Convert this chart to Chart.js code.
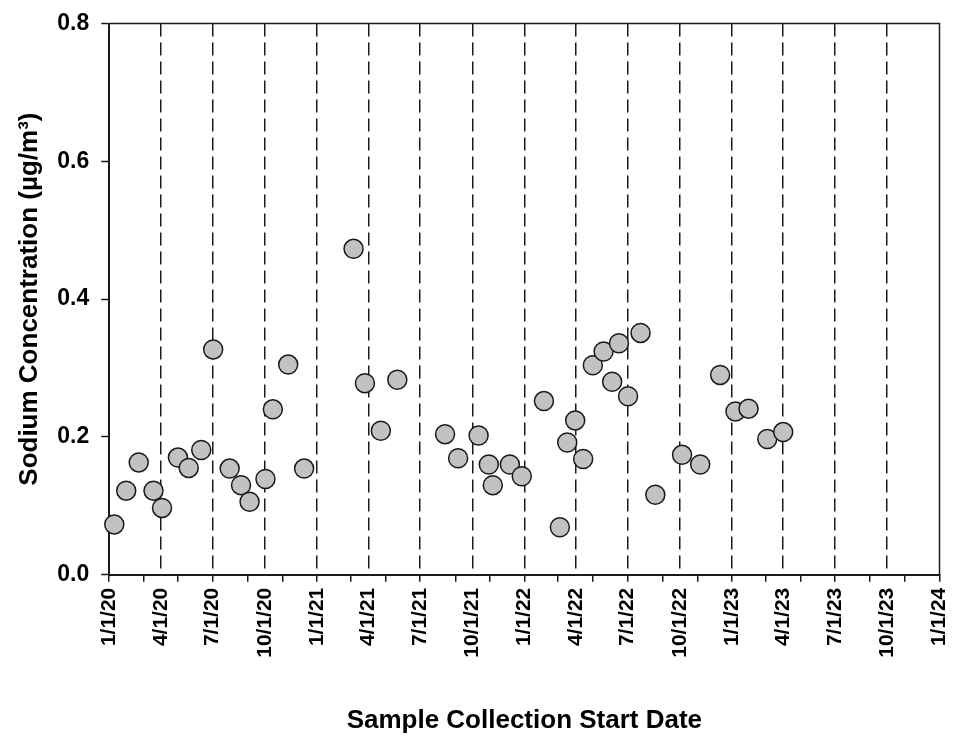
<!DOCTYPE html>
<html>
<head>
<meta charset="utf-8">
<script src="https://cdn.jsdelivr.net/npm/chart.js@4.4.0/dist/chart.umd.min.js"></script>
<style>
  html, body { margin: 0; padding: 0; background: #fff; }
  #wrap { width: 956px; height: 740px; }
</style>
</head>
<body>
<div id="wrap"><canvas id="chart"></canvas></div>
<script>
// sample collection start dates (yyyy-mm-dd) and sodium values (ug/m3)
const sampleDates = [
  '2020-01-10', '2020-01-31', '2020-02-22', '2020-03-19', '2020-04-03',
  '2020-05-01', '2020-05-20', '2020-06-11', '2020-07-02', '2020-07-31',
  '2020-08-20', '2020-09-04', '2020-10-02', '2020-10-15', '2020-11-11',
  '2020-12-09', '2021-03-06', '2021-03-26', '2021-04-23', '2021-05-22',
  '2021-08-14', '2021-09-06', '2021-10-12', '2021-10-30', '2021-11-06',
  '2021-12-06', '2021-12-27', '2022-02-04', '2022-03-04', '2022-03-17',
  '2022-03-31', '2022-04-14', '2022-05-01', '2022-05-20', '2022-06-04',
  '2022-06-16', '2022-07-02', '2022-07-24', '2022-08-19', '2022-10-05',
  '2022-11-06', '2022-12-11', '2023-01-07', '2023-01-30', '2023-03-04',
  '2023-04-01'
];
const sodium = [
  0.073, 0.122, 0.163, 0.122, 0.097,
  0.170, 0.155, 0.181, 0.327, 0.154,
  0.130, 0.106, 0.139, 0.240, 0.305,
  0.154, 0.473, 0.278, 0.209, 0.283,
  0.204, 0.169, 0.202, 0.160, 0.130,
  0.160, 0.143, 0.252, 0.069, 0.192,
  0.224, 0.168, 0.304, 0.324, 0.280,
  0.336, 0.259, 0.351, 0.116, 0.174,
  0.160, 0.290, 0.237, 0.241, 0.197,
  0.207
];

// labelled quarters (dashed lines) and the months that get a tick mark
const quarterLabels = [
  '1/1/20', '4/1/20', '7/1/20', '10/1/20',
  '1/1/21', '4/1/21', '7/1/21', '10/1/21',
  '1/1/22', '4/1/22', '7/1/22', '10/1/22',
  '1/1/23', '4/1/23', '7/1/23', '10/1/23',
  '1/1/24'
];
const tickMonths = [1, 3, 5, 7, 9, 11];
const tickYears = [2020, 2021, 2022, 2023];
const yTicks = [0, 0.2, 0.4, 0.6, 0.8];

const DAY = 86400000;
const origin = Date.UTC(2020, 0, 1);
function dayOf(y, m, d) { return Math.round((Date.UTC(y, m - 1, d) - origin) / DAY); }
function isoDay(s) { const p = s.split('-').map(Number); return dayOf(p[0], p[1], p[2]); }
function mdyDay(s) { const p = s.split('/').map(Number); return dayOf(2000 + p[2], p[0], p[1]); }

const labelByDay = {};
quarterLabels.forEach(l => { labelByDay[mdyDay(l)] = l; });
const minorSet = new Set();
tickYears.forEach(y => tickMonths.forEach(m => minorSet.add(dayOf(y, m, 1))));
minorSet.add(dayOf(2024, 1, 1));
const xMin = mdyDay(quarterLabels[0]);
const xMax = mdyDay(quarterLabels[quarterLabels.length - 1]);
const tickDays = Array.from(new Set([...Object.keys(labelByDay).map(Number), ...minorSet])).sort((a, b) => a - b);

const points = sampleDates.map((d, i) => ({ x: isoDay(d), y: sodium[i] }));

const ink = '#1a1a1a';
const none = 'rgba(0,0,0,0)';
const font = 'Liberation Sans, Arial, sans-serif';

const frame = {
  id: 'frame',
  afterDatasetsDraw(chart) {
    const { ctx, chartArea: a } = chart;
    ctx.save();
    ctx.strokeStyle = ink;
    ctx.lineWidth = 1.5;
    ctx.beginPath();
    ctx.moveTo(a.left, a.top);
    ctx.lineTo(a.right, a.top);
    ctx.lineTo(a.right, a.bottom);
    ctx.stroke();
    ctx.restore();
  }
};

new Chart(document.getElementById('chart'), {
  type: 'scatter',
  data: {
    datasets: [{
      data: points,
      backgroundColor: '#c2c2c2',
      borderColor: ink,
      borderWidth: 1.5,
      pointRadius: 9.5,
      clip: false
    }]
  },
  options: {
    responsive: true,
    maintainAspectRatio: false,
    animation: false,
    layout: { padding: { left: 14, right: 4, top: 10, bottom: 0 } },
    plugins: { legend: { display: false }, tooltip: { enabled: false } },
    scales: {
      x: {
        type: 'linear',
        min: xMin,
        max: xMax,
        afterBuildTicks: scale => { scale.ticks = tickDays.map(v => ({ value: v })); },
        ticks: {
          autoSkip: false,
          minRotation: 90,
          maxRotation: 90,
          padding: 6,
          color: '#000',
          font: { family: font, size: 21, weight: 'bold', lineHeight: 0.5 },
          callback: v => labelByDay[v] || ''
        },
        grid: {
          drawTicks: true,
          tickLength: 7,
          lineWidth: 1.5,
          tickWidth: 1.5,
          color: c => (c.tick && labelByDay[c.tick.value] && c.tick.value !== xMin && c.tick.value !== xMax) ? ink : none,
          tickColor: c => (c.tick && minorSet.has(c.tick.value)) ? ink : none
        },
        border: { display: true, color: ink, width: 2, dash: [13, 6] },
        title: {
          display: true,
          text: 'Sample Collection Start Date',
          color: '#000',
          font: { family: font, size: 26, weight: 'bold' },
          padding: { top: 41, bottom: 4 }
        }
      },
      y: {
        min: 0,
        max: 0.8,
        afterBuildTicks: scale => { scale.ticks = yTicks.map(v => ({ value: v })); },
        ticks: {
          padding: 12,
          color: '#000',
          font: { family: font, size: 23, weight: 'bold', lineHeight: 1.0 },
          callback: v => v.toFixed(1)
        },
        grid: { drawOnChartArea: false, drawTicks: true, tickLength: 8, tickWidth: 1.5, tickColor: ink },
        border: { display: true, color: ink, width: 2 },
        title: {
          display: true,
          text: 'Sodium Concentration (µg/m³)',
          color: '#000',
          font: { family: font, size: 26, weight: 'bold' },
          padding: { top: 0, bottom: 0 }
        }
      }
    }
  },
  plugins: [frame]
});
</script>
</body>
</html>
